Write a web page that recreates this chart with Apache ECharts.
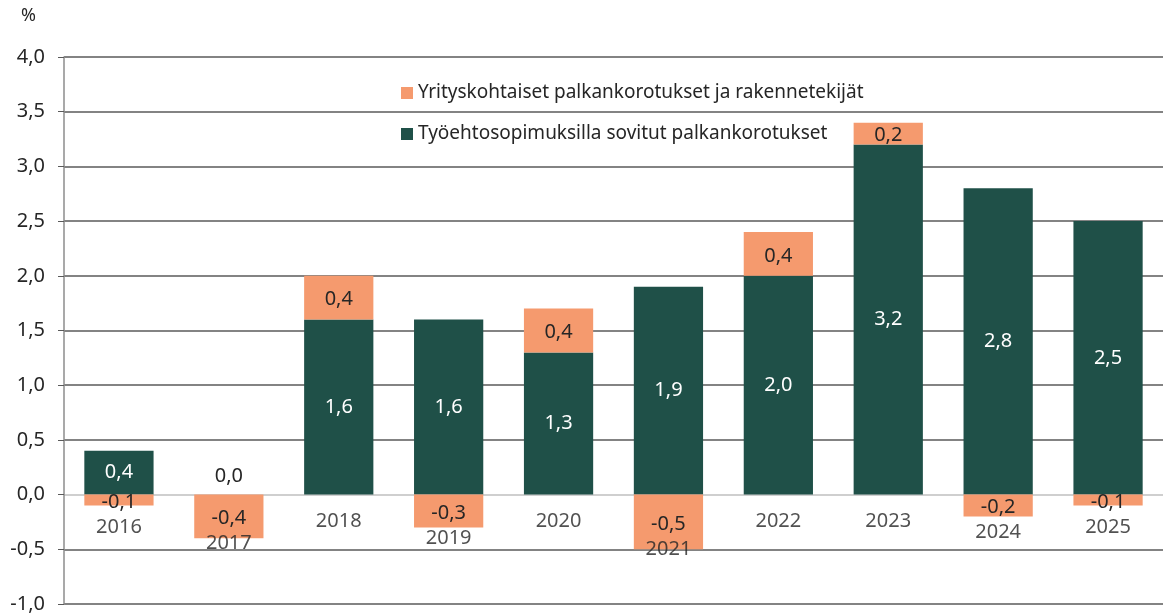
<!DOCTYPE html>
<html><head><meta charset="utf-8">
<script src="https://cdn.jsdelivr.net/npm/echarts@6/dist/echarts.min.js"></script>
<style>html,body{margin:0;padding:0;background:#fff;overflow:hidden}#c{width:1163px;height:614px}</style>
</head><body><div id="c"></div>
<script>
const years = ['2016','2017','2018','2019','2020','2021','2022','2023','2024','2025'];
const agreed = [0.4, 0.0, 1.6, 1.6, 1.3, 1.9, 2.0, 3.2, 2.8, 2.5];
const company = [-0.1, -0.4, 0.4, -0.3, 0.4, -0.5, 0.4, 0.2, -0.2, -0.1];
const seriesNames = ['Työehtosopimuksilla sovitut palkankorotukset', 'Yrityskohtaiset palkankorotukset ja rakennetekijät'];
const yTicks = {min: -1.0, max: 4.0, interval: 0.5};

const FONT = '"Noto Sans", sans-serif';
const TXT = '#262626';
const fmt = v => v.toFixed(1).replace('.', ',');
const GREEN = '#1F5048', ORANGE = '#F59A6E';

const nLines = Math.round((yTicks.max - yTicks.min) / yTicks.interval) + 1;
const lineColors = [];
for (let i = 0; i < nLines; i++) {
  const v = yTicks.min + i * yTicks.interval;
  lineColors.push(Math.abs(v) < 1e-9 ? '#BFBFBF' : '#5A5A5A');
}

const chart = echarts.init(document.getElementById('c'));
chart.setOption({
  animation: false,
  textStyle: {fontFamily: FONT},
  grid: {left: 64, width: 1109, top: 57, height: 551, containLabel: false},
  graphic: [{type: 'text', left: 21, top: 7, style: {text: '%', fontSize: 18, fill: TXT, fontFamily: FONT}}],
  legend: {
    data: [seriesNames[1], seriesNames[0]],
    orient: 'vertical', left: 396, top: 77,
    itemWidth: 12, itemHeight: 12, itemGap: 19, icon: 'rect',
    textStyle: {fontSize: 19, color: TXT, fontFamily: FONT, lineHeight: 22}
  },
  xAxis: {
    type: 'category', data: years,
    axisLine: {show: false}, axisTick: {show: false}, axisLabel: {show: false}
  },
  yAxis: {
    type: 'value', min: yTicks.min, max: yTicks.max, interval: yTicks.interval,
    axisLine: {show: true, lineStyle: {color: '#8C8C8C', width: 1.5}},
    axisTick: {show: true, length: 6, lineStyle: {color: '#5A5A5A'}},
    axisLabel: {formatter: fmt, fontSize: 20, color: TXT, margin: 19, fontFamily: FONT},
    splitLine: {show: true, lineStyle: {color: lineColors, width: 1.5}}
  },
  series: [
    {
      name: seriesNames[0], type: 'bar', stack: 'tot', barWidth: '63%',
      itemStyle: {color: GREEN},
      data: agreed.map(v => v === 0
        ? {value: v, label: {position: 'top', color: TXT, distance: 8}}
        : v),
      label: {show: true, position: 'inside', color: '#fff', fontSize: 20, formatter: p => fmt(p.value), fontFamily: FONT}
    },
    {
      name: seriesNames[1], type: 'bar', stack: 'tot', barWidth: '63%',
      itemStyle: {color: ORANGE},
      data: company,
      label: {show: true, position: 'inside', color: TXT, fontSize: 20, formatter: p => fmt(p.value), fontFamily: FONT, offset: [0, 2]}
    },
    {
      name: 'years', type: 'scatter', symbolSize: 0, silent: true,
      data: company.map(v => Math.min(0, v) / 2),
      label: {show: true, position: 'inside', offset: [0, 27], color: TXT, fontSize: 20, fontFamily: FONT,
        formatter: p => years[p.dataIndex]}
    }
  ]
});
</script></body></html>
